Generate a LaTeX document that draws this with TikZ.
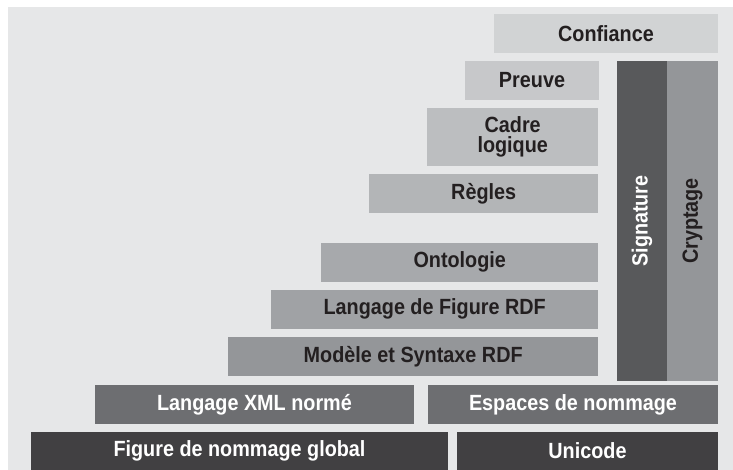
\documentclass[tikz,border=0pt]{standalone}
\usepackage{fontspec}
\usepackage{tikz}
\usetikzlibrary{positioning}
\newfontfamily\layerfont{Liberation Sans}[FakeStretch=0.9]
\definecolor{paper}{RGB}{230,231,232}
\definecolor{trust}{RGB}{209,211,212}
\definecolor{proof}{RGB}{199,200,202}
\definecolor{logic}{RGB}{188,190,192}
\definecolor{rules}{RGB}{179,181,183}
\definecolor{onto}{RGB}{167,169,172}
\definecolor{rdfs}{RGB}{160,162,165}
\definecolor{rdfm}{RGB}{148,150,153}
\definecolor{xmlg}{RGB}{109,110,113}
\definecolor{baseg}{RGB}{65,64,66}
\definecolor{signg}{RGB}{88,89,91}
\definecolor{ink}{RGB}{35,31,32}
\tikzset{
  layer/.style={fill=#1,text=ink,inner sep=0pt,minimum height=38.7pt,
    align=center,font=\layerfont\bfseries\fontsize{22}{21}\selectfont},
  layer/.default=onto,
  dark layer/.style={layer=#1,text=white},
  dark layer/.default=baseg,
}
\begin{document}
\begin{tikzpicture}[x=1pt,y=-1pt]
  \useasboundingbox (0,0) rectangle (733,470);
  \fill[paper] (8,7) rectangle (733,470);
  % upper stack
  \node[layer=trust,minimum width=224pt] (confiance) at (606,33.3) {Confiance};
  \node[layer=proof,minimum width=134pt,minimum height=39pt] (preuve) at (532,80.5) {Preuve};
  \node[layer=logic,minimum width=171.5pt,minimum height=57.7pt] (cadre) at (512.7,136.8) {Cadre\\[-1pt]logique};
  \node[layer=rules,minimum width=229.5pt] (regles) at (483.7,193.3) {Règles};
  \node[layer=onto,minimum width=277.5pt] (ontologie) at (459.7,262.3) {Ontologie};
  \node[layer=rdfs,minimum width=327.5pt] (rdfs) at (434.7,309.3) {Langage de Figure RDF};
  \node[layer=rdfm,minimum width=370.5pt] (rdfm) at (413.2,356.3) {Modèle et Syntaxe RDF};
  % side columns
  \node[dark layer=signg,rotate=90,minimum width=320pt,minimum height=50pt] (signature) at (642,221) {Signature};
  \node[layer=rdfm,rotate=90,minimum width=320pt,minimum height=51pt] (cryptage) at (692.5,221) {Cryptage};
  % lower layers
  \node[dark layer=xmlg,minimum width=319pt,minimum height=39pt] (xml) at (254.5,404.5) {Langage XML normé};
  \node[dark layer=xmlg,minimum width=290pt,minimum height=39pt] (espaces) at (573,404.5) {Espaces de nommage};
  \node[dark layer,minimum width=417pt,minimum height=38pt] (uri) at (239.5,451) {Figure de nommage global};
  \node[dark layer,minimum width=261pt,minimum height=38pt] (unicode) at (587.5,451) {Unicode};
\end{tikzpicture}
\end{document}
